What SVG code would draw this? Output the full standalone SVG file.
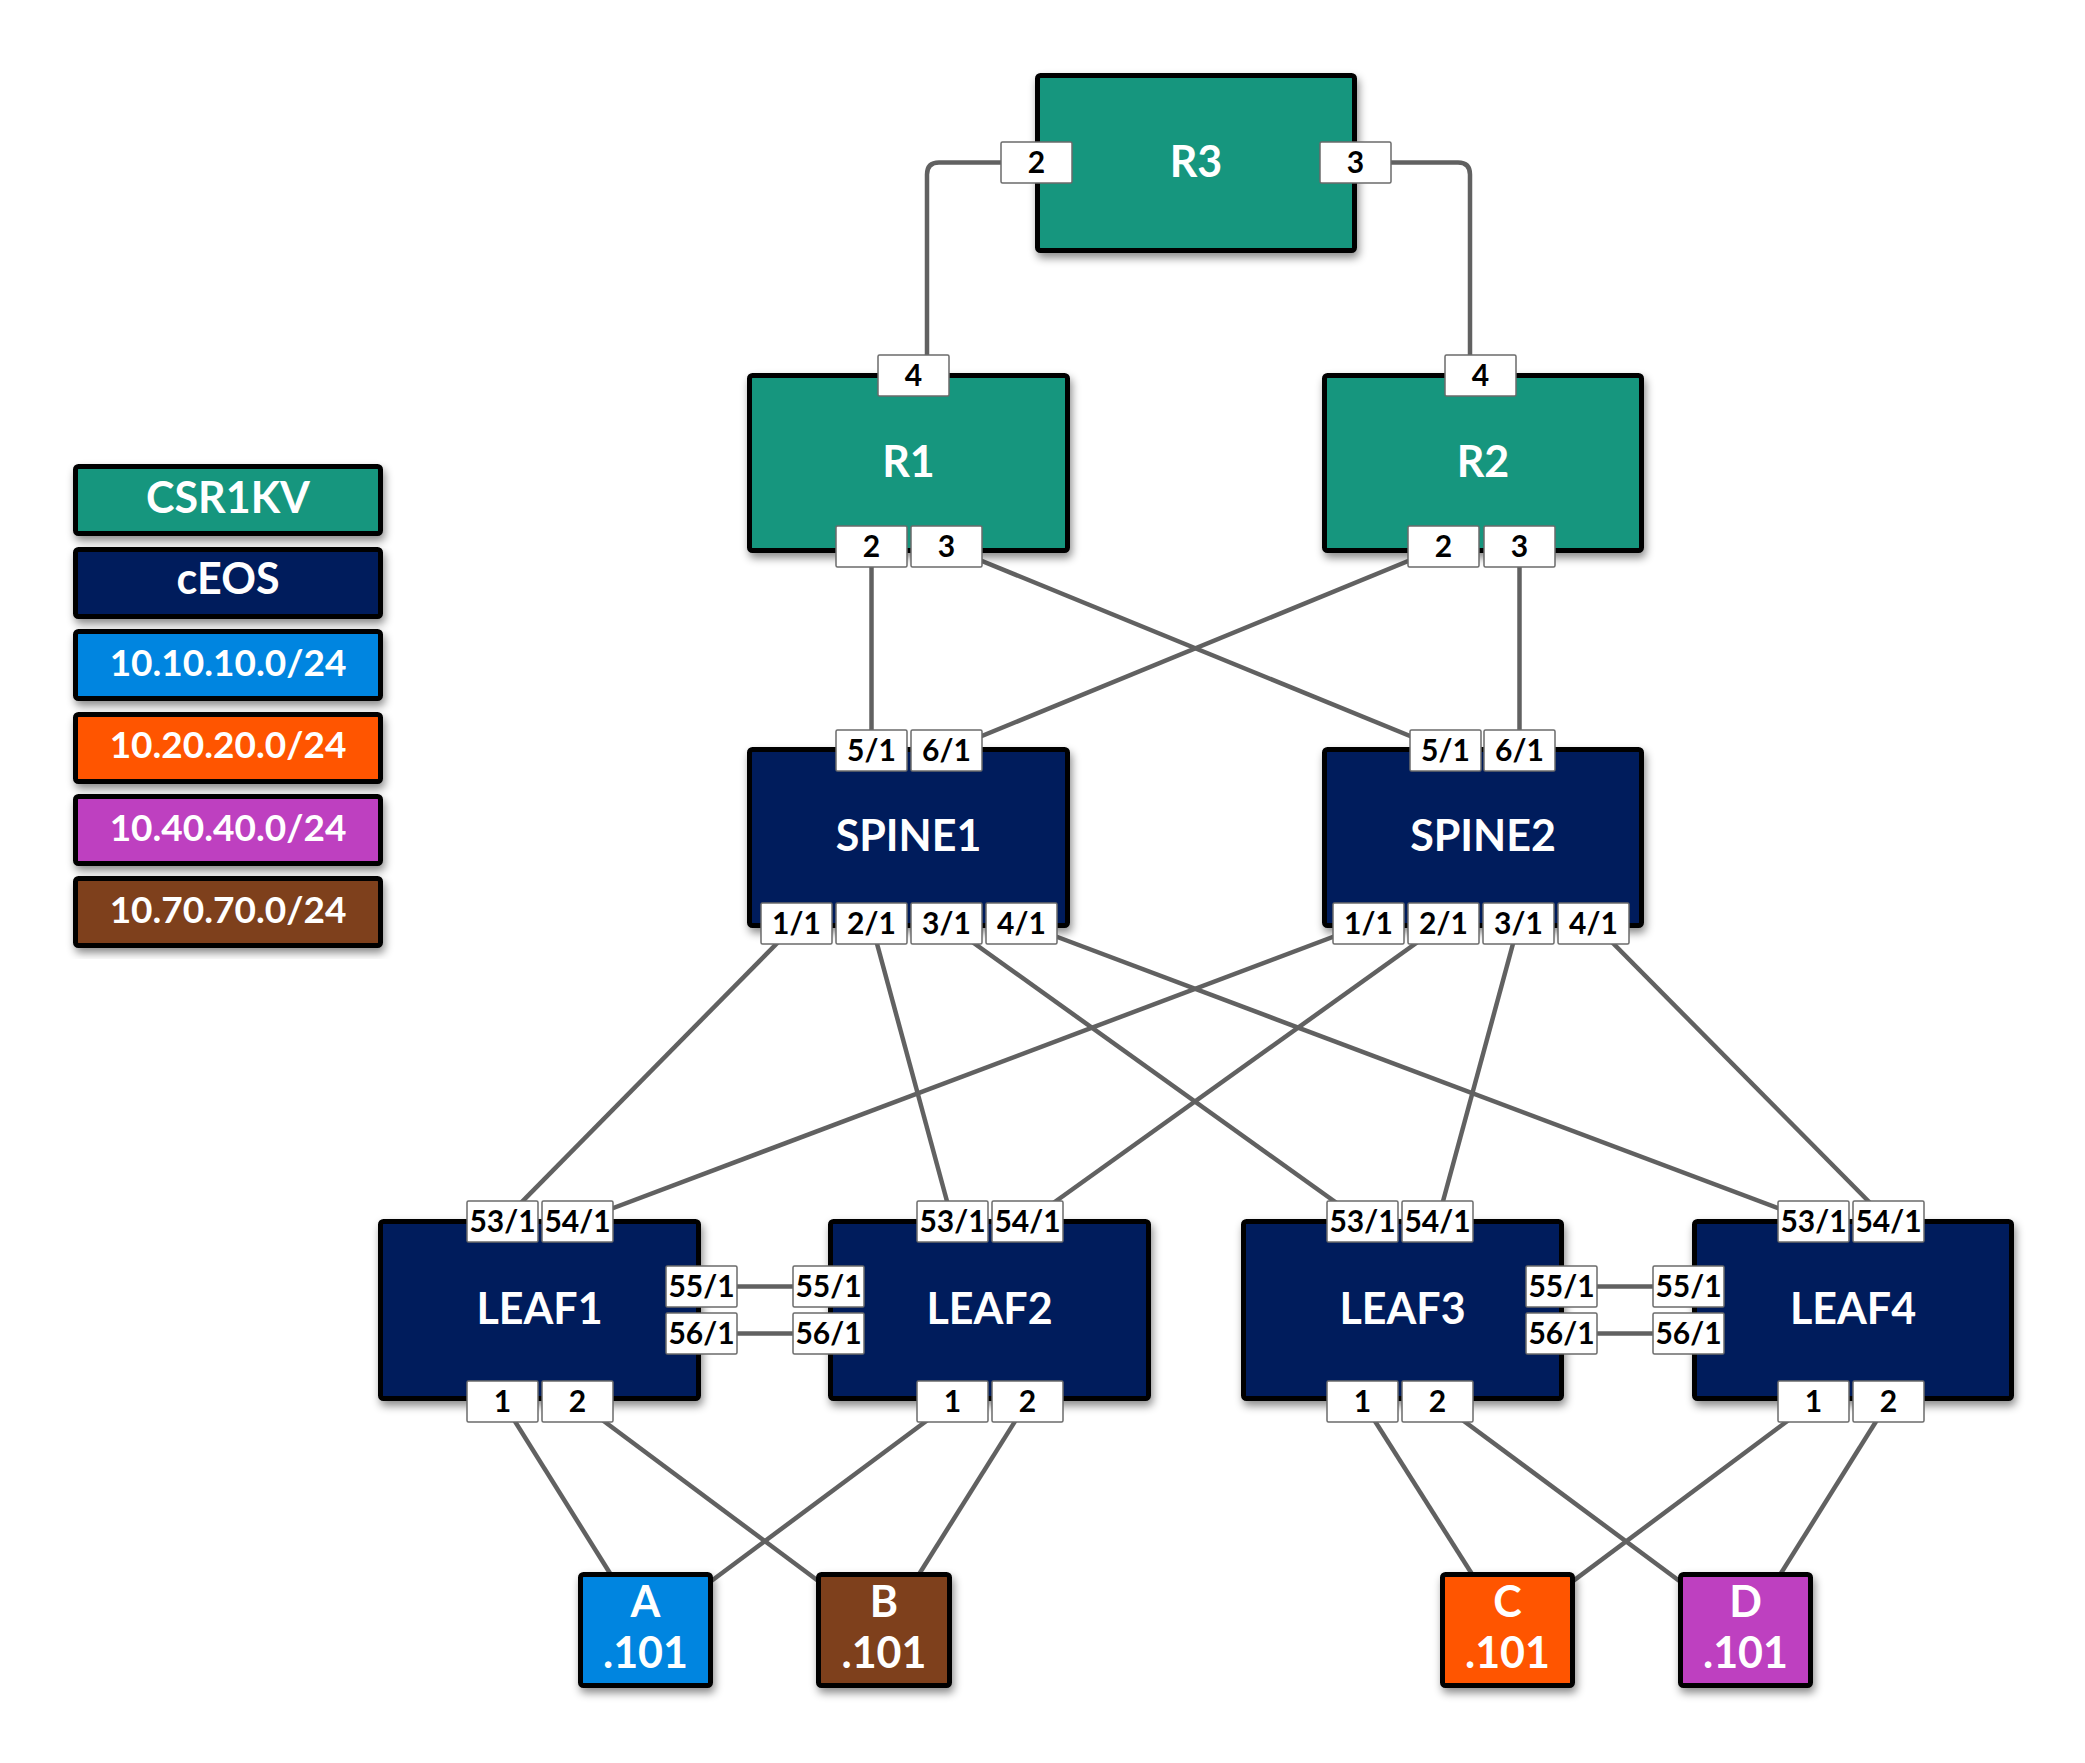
<svg xmlns="http://www.w3.org/2000/svg" width="2085" height="1763" viewBox="0 0 2085 1763">
  <defs>
    <filter id="shadow" x="-10%" y="-10%" width="125%" height="130%">
      <feDropShadow dx="2" dy="5" stdDeviation="4" flood-color="#000" flood-opacity="0.45"/>
    </filter>
    <style>
      .box { stroke: #000; stroke-width: 5; filter: url(#shadow); }
      .csr { fill: #18967e; }
      .ceos { fill: #001f5c; }
      .net10 { fill: #0585e0; }
      .net20 { fill: #ff5500; }
      .net40 { fill: #be41c0; }
      .net70 { fill: #7e3f1a; }
      .port { fill: #fff; stroke: #6b6b6b; stroke-width: 1.5; }
      .ptxt { font-family: Lato, "Liberation Sans", sans-serif; font-weight: 700; font-size: 30px; fill: #000; text-anchor: middle; }
      .ntxt { font-family: Lato, "Liberation Sans", sans-serif; font-weight: 700; font-size: 43px; fill: #fff; text-anchor: middle; }
      .ltxt { font-family: Lato, "Liberation Sans", sans-serif; font-weight: 700; font-size: 37px; fill: #fff; text-anchor: middle; }
      .link { fill: none; stroke: #616161; stroke-width: 4.5; }
    </style>
  </defs>
  <rect width="2085" height="1763" fill="#fff"/>

  <!-- connectors, drawn beneath the nodes (port centre to port centre) -->
  <g id="connectors" class="link">
    <path d="M1036.5,162.5 H939 Q927,162.5 927,174.5 V376"/>
    <path d="M1355.5,162.5 H1458 Q1470,162.5 1470,174.5 V376"/>
    <line x1="871.5" y1="546.5" x2="871.5" y2="750.5"/>
    <line x1="946.5" y1="546.5" x2="1445.5" y2="750.5"/>
    <line x1="1443.5" y1="546.5" x2="946.5" y2="750.5"/>
    <line x1="1519.5" y1="546.5" x2="1519.5" y2="750.5"/>
    <line x1="796.5" y1="923.5" x2="502.5" y2="1221.5"/>
    <line x1="871.5" y1="923.5" x2="952.5" y2="1221.5"/>
    <line x1="946.5" y1="923.5" x2="1362.5" y2="1221.5"/>
    <line x1="1021.5" y1="923.5" x2="1813.5" y2="1221.5"/>
    <line x1="1368.5" y1="923.5" x2="577.5" y2="1221.5"/>
    <line x1="1443.5" y1="923.5" x2="1027.5" y2="1221.5"/>
    <line x1="1518.5" y1="923.5" x2="1437.5" y2="1221.5"/>
    <line x1="1593.5" y1="923.5" x2="1888.5" y2="1221.5"/>
    <line x1="701.5" y1="1286.5" x2="828.5" y2="1286.5"/>
    <line x1="701.5" y1="1333.5" x2="828.5" y2="1333.5"/>
    <line x1="1561.5" y1="1286.5" x2="1688.5" y2="1286.5"/>
    <line x1="1561.5" y1="1333.5" x2="1688.5" y2="1333.5"/>
    <line x1="502.5" y1="1401.5" x2="645.5" y2="1630"/>
    <line x1="577.5" y1="1401.5" x2="884" y2="1630"/>
    <line x1="952.5" y1="1401.5" x2="645.5" y2="1630"/>
    <line x1="1027.5" y1="1401.5" x2="884" y2="1630"/>
    <line x1="1362.5" y1="1401.5" x2="1507.5" y2="1630"/>
    <line x1="1437.5" y1="1401.5" x2="1745.5" y2="1630"/>
    <line x1="1813.5" y1="1401.5" x2="1507.5" y2="1630"/>
    <line x1="1888.5" y1="1401.5" x2="1745.5" y2="1630"/>
  </g>

  <!-- routers -->
  <g id="R3">
    <rect class="box csr" x="1037.5" y="75.5" width="317" height="175" rx="3"/>
    <text class="ntxt" x="1196" y="177">R3</text>
    <rect class="port" x="1001" y="142" width="71" height="41" rx="1.5"/><text class="ptxt" x="1036.5" y="173">2</text>
    <rect class="port" x="1320" y="142" width="71" height="41" rx="1.5"/><text class="ptxt" x="1355.5" y="173">3</text>
  </g>
  <g id="R1">
    <rect class="box csr" x="749.5" y="375.5" width="318" height="175" rx="3"/>
    <text class="ntxt" x="908.5" y="477">R1</text>
    <rect class="port" x="878" y="355" width="71" height="41" rx="1.5"/><text class="ptxt" x="913.5" y="386">4</text>
    <rect class="port" x="836" y="526" width="71" height="41" rx="1.5"/><text class="ptxt" x="871.5" y="557">2</text>
    <rect class="port" x="911" y="526" width="71" height="41" rx="1.5"/><text class="ptxt" x="946.5" y="557">3</text>
  </g>
  <g id="R2">
    <rect class="box csr" x="1324.5" y="375.5" width="317" height="175" rx="3"/>
    <text class="ntxt" x="1483" y="477">R2</text>
    <rect class="port" x="1445" y="355" width="71" height="41" rx="1.5"/><text class="ptxt" x="1480.5" y="386">4</text>
    <rect class="port" x="1408" y="526" width="71" height="41" rx="1.5"/><text class="ptxt" x="1443.5" y="557">2</text>
    <rect class="port" x="1484" y="526" width="71" height="41" rx="1.5"/><text class="ptxt" x="1519.5" y="557">3</text>
  </g>

  <!-- spines -->
  <g id="SPINE1">
    <rect class="box ceos" x="749.5" y="749.5" width="318" height="176" rx="3"/>
    <text class="ntxt" x="908.5" y="851">SPINE1</text>
    <rect class="port" x="836" y="730" width="71" height="41" rx="1.5"/><text class="ptxt" x="871.5" y="761">5/1</text>
    <rect class="port" x="911" y="730" width="71" height="41" rx="1.5"/><text class="ptxt" x="946.5" y="761">6/1</text>
    <rect class="port" x="761" y="903" width="71" height="41" rx="1.5"/><text class="ptxt" x="796.5" y="934">1/1</text>
    <rect class="port" x="836" y="903" width="71" height="41" rx="1.5"/><text class="ptxt" x="871.5" y="934">2/1</text>
    <rect class="port" x="911" y="903" width="71" height="41" rx="1.5"/><text class="ptxt" x="946.5" y="934">3/1</text>
    <rect class="port" x="986" y="903" width="71" height="41" rx="1.5"/><text class="ptxt" x="1021.5" y="934">4/1</text>
  </g>
  <g id="SPINE2">
    <rect class="box ceos" x="1324.5" y="749.5" width="317" height="176" rx="3"/>
    <text class="ntxt" x="1483" y="851">SPINE2</text>
    <rect class="port" x="1410" y="730" width="71" height="41" rx="1.5"/><text class="ptxt" x="1445.5" y="761">5/1</text>
    <rect class="port" x="1484" y="730" width="71" height="41" rx="1.5"/><text class="ptxt" x="1519.5" y="761">6/1</text>
    <rect class="port" x="1333" y="903" width="71" height="41" rx="1.5"/><text class="ptxt" x="1368.5" y="934">1/1</text>
    <rect class="port" x="1408" y="903" width="71" height="41" rx="1.5"/><text class="ptxt" x="1443.5" y="934">2/1</text>
    <rect class="port" x="1483" y="903" width="71" height="41" rx="1.5"/><text class="ptxt" x="1518.5" y="934">3/1</text>
    <rect class="port" x="1558" y="903" width="71" height="41" rx="1.5"/><text class="ptxt" x="1593.5" y="934">4/1</text>
  </g>

  <!-- leaves -->
  <g id="LEAF1">
    <rect class="box ceos" x="380.5" y="1221.5" width="318" height="177" rx="3"/>
    <text class="ntxt" x="539.5" y="1324">LEAF1</text>
    <rect class="port" x="467" y="1201" width="71" height="41" rx="1.5"/><text class="ptxt" x="502.5" y="1232">53/1</text>
    <rect class="port" x="542" y="1201" width="71" height="41" rx="1.5"/><text class="ptxt" x="577.5" y="1232">54/1</text>
    <rect class="port" x="666" y="1266" width="71" height="41" rx="1.5"/><text class="ptxt" x="701.5" y="1297">55/1</text>
    <rect class="port" x="666" y="1313" width="71" height="41" rx="1.5"/><text class="ptxt" x="701.5" y="1344">56/1</text>
    <rect class="port" x="467" y="1381" width="71" height="41" rx="1.5"/><text class="ptxt" x="502.5" y="1412">1</text>
    <rect class="port" x="542" y="1381" width="71" height="41" rx="1.5"/><text class="ptxt" x="577.5" y="1412">2</text>
  </g>
  <g id="LEAF2">
    <rect class="box ceos" x="830.5" y="1221.5" width="318" height="177" rx="3"/>
    <text class="ntxt" x="989.5" y="1324">LEAF2</text>
    <rect class="port" x="917" y="1201" width="71" height="41" rx="1.5"/><text class="ptxt" x="952.5" y="1232">53/1</text>
    <rect class="port" x="992" y="1201" width="71" height="41" rx="1.5"/><text class="ptxt" x="1027.5" y="1232">54/1</text>
    <rect class="port" x="793" y="1266" width="71" height="41" rx="1.5"/><text class="ptxt" x="828.5" y="1297">55/1</text>
    <rect class="port" x="793" y="1313" width="71" height="41" rx="1.5"/><text class="ptxt" x="828.5" y="1344">56/1</text>
    <rect class="port" x="917" y="1381" width="71" height="41" rx="1.5"/><text class="ptxt" x="952.5" y="1412">1</text>
    <rect class="port" x="992" y="1381" width="71" height="41" rx="1.5"/><text class="ptxt" x="1027.5" y="1412">2</text>
  </g>
  <g id="LEAF3">
    <rect class="box ceos" x="1243.5" y="1221.5" width="318" height="177" rx="3"/>
    <text class="ntxt" x="1402.5" y="1324">LEAF3</text>
    <rect class="port" x="1327" y="1201" width="71" height="41" rx="1.5"/><text class="ptxt" x="1362.5" y="1232">53/1</text>
    <rect class="port" x="1402" y="1201" width="71" height="41" rx="1.5"/><text class="ptxt" x="1437.5" y="1232">54/1</text>
    <rect class="port" x="1526" y="1266" width="71" height="41" rx="1.5"/><text class="ptxt" x="1561.5" y="1297">55/1</text>
    <rect class="port" x="1526" y="1313" width="71" height="41" rx="1.5"/><text class="ptxt" x="1561.5" y="1344">56/1</text>
    <rect class="port" x="1327" y="1381" width="71" height="41" rx="1.5"/><text class="ptxt" x="1362.5" y="1412">1</text>
    <rect class="port" x="1402" y="1381" width="71" height="41" rx="1.5"/><text class="ptxt" x="1437.5" y="1412">2</text>
  </g>
  <g id="LEAF4">
    <rect class="box ceos" x="1694.5" y="1221.5" width="317" height="177" rx="3"/>
    <text class="ntxt" x="1853" y="1324">LEAF4</text>
    <rect class="port" x="1778" y="1201" width="71" height="41" rx="1.5"/><text class="ptxt" x="1813.5" y="1232">53/1</text>
    <rect class="port" x="1853" y="1201" width="71" height="41" rx="1.5"/><text class="ptxt" x="1888.5" y="1232">54/1</text>
    <rect class="port" x="1653" y="1266" width="71" height="41" rx="1.5"/><text class="ptxt" x="1688.5" y="1297">55/1</text>
    <rect class="port" x="1653" y="1313" width="71" height="41" rx="1.5"/><text class="ptxt" x="1688.5" y="1344">56/1</text>
    <rect class="port" x="1778" y="1381" width="71" height="41" rx="1.5"/><text class="ptxt" x="1813.5" y="1412">1</text>
    <rect class="port" x="1853" y="1381" width="71" height="41" rx="1.5"/><text class="ptxt" x="1888.5" y="1412">2</text>
  </g>

  <!-- hosts -->
  <g id="hostA">
    <rect class="box net10" x="580.5" y="1574.5" width="130" height="111" rx="3"/>
    <text class="ntxt" x="645.5" y="1617">A</text>
    <text class="ntxt" x="645.5" y="1668">.101</text>
  </g>
  <g id="hostB">
    <rect class="box net70" x="818.5" y="1574.5" width="131" height="111" rx="3"/>
    <text class="ntxt" x="884" y="1617">B</text>
    <text class="ntxt" x="884" y="1668">.101</text>
  </g>
  <g id="hostC">
    <rect class="box net20" x="1442.5" y="1574.5" width="130" height="111" rx="3"/>
    <text class="ntxt" x="1507.5" y="1617">C</text>
    <text class="ntxt" x="1507.5" y="1668">.101</text>
  </g>
  <g id="hostD">
    <rect class="box net40" x="1680.5" y="1574.5" width="130" height="111" rx="3"/>
    <text class="ntxt" x="1745.5" y="1617">D</text>
    <text class="ntxt" x="1745.5" y="1668">.101</text>
  </g>

  <!-- legend -->
  <g id="legend">
    <g id="legend-csr1kv">
      <rect class="box csr" x="75.5" y="466.5" width="305" height="67" rx="3"/>
      <text class="ntxt" x="228" y="513">CSR1KV</text>
    </g>
    <g id="legend-ceos">
      <rect class="box ceos" x="75.5" y="549.5" width="305" height="67" rx="3"/>
      <text class="ntxt" x="228" y="594">cEOS</text>
    </g>
    <g id="legend-net10">
      <rect class="box net10" x="75.5" y="631.5" width="305" height="67" rx="3"/>
      <text class="ltxt" x="228" y="676">10.10.10.0/24</text>
    </g>
    <g id="legend-net20">
      <rect class="box net20" x="75.5" y="714.5" width="305" height="67" rx="3"/>
      <text class="ltxt" x="228" y="758">10.20.20.0/24</text>
    </g>
    <g id="legend-net40">
      <rect class="box net40" x="75.5" y="796.5" width="305" height="67" rx="3"/>
      <text class="ltxt" x="228" y="841">10.40.40.0/24</text>
    </g>
    <g id="legend-net70">
      <rect class="box net70" x="75.5" y="878.5" width="305" height="67" rx="3"/>
      <text class="ltxt" x="228" y="923">10.70.70.0/24</text>
    </g>
  </g>
</svg>
